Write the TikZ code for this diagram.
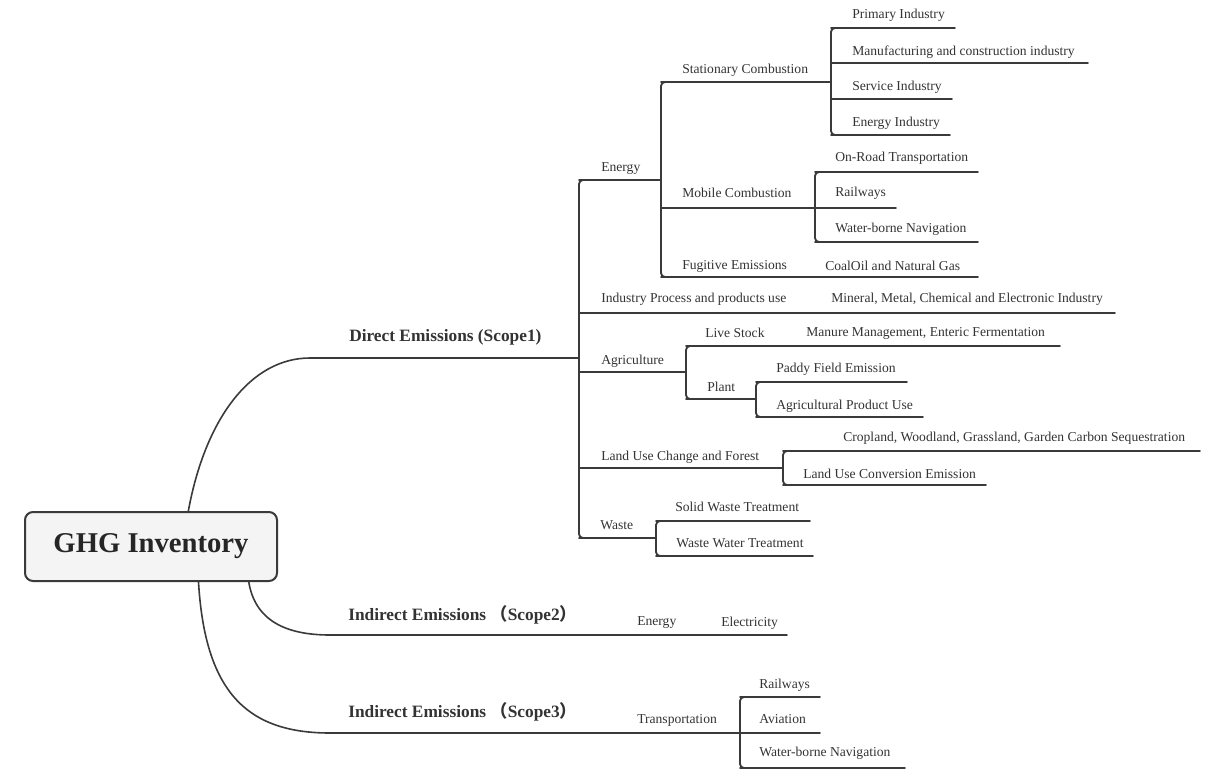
\documentclass[tikz,border=0pt]{standalone}
\usepackage{fontspec}
\setmainfont{Liberation Serif}
\newfontfamily\cjk{Noto Sans CJK SC}
\usetikzlibrary{calc}
\definecolor{ln}{HTML}{3A3A3A}
\definecolor{tx}{HTML}{333333}
\tikzset{
  lbl/.style={anchor=west, inner sep=0pt, font=\fontsize{10.2}{12}\selectfont, text=tx},
  mainlbl/.style={anchor=west, inner sep=0pt, font=\fontsize{13}{15}\selectfont\bfseries, text=tx},
  br/.style={draw=ln, line width=1.4pt, line cap=round},
  curv/.style={draw=ln, line width=1.2pt, line cap=round},
  bracket/.style={draw=ln, line width=1.4pt, rounded corners=3pt},
  rootbox/.style={draw=ln, line width=1.5pt, rounded corners=6pt, fill=gray!9,
    minimum width=189pt, minimum height=51.75pt, inner sep=0pt,
    font=\fontsize{21.5}{24}\selectfont\bfseries, text=black!85}
}
% name, x1, x2, line y, text x, text y, text
\newcommand\mmtopic[7]{%
  \coordinate (#1-s) at (#2,#4);
  \coordinate (#1-e) at (#3,#4);
  \node[lbl] (#1) at (#5,#6) {#7};
  \draw[br] (#1-s) -- (#1-e);}
% label only (sits on a parent's line)
\newcommand\mmlabel[4]{\node[lbl] (#1) at (#2,#3) {#4};}
% vertical bracket between two topics' starts
\newcommand\mmbracket[2]{%
  \draw[bracket] ([xshift=7pt]#1-s) -- (#1-s) -- (#2-s) -- ([xshift=7pt]#2-s);}
\begin{document}
\begin{tikzpicture}[x=0.75pt,y=-0.75pt]
\useasboundingbox (0,0) rectangle (1210,771);

% root
\node[rootbox] (root) at (151,546.5) {GHG Inventory};
\coordinate (r1) at ($(root.north west)!0.647!(root.north east)$);
\coordinate (r2) at ($(root.south west)!0.885!(root.south east)$);
\coordinate (r3) at ($(root.south west)!0.687!(root.south east)$);

% ---------- Scope 1 ----------
\coordinate (dir-s) at (310,358);
\coordinate (dir-e) at (579,358);
\node[mainlbl] (dir) at (349,337) {Direct Emissions (Scope1)};
\draw[curv] (r1) .. controls (205,420) and (250,358) .. (dir-s) -- (dir-e);

% Energy
\mmtopic{en}{579}{661}{180}{601}{169}{Energy}
\mmtopic{sc}{661}{831}{82}{682}{70}{Stationary Combustion}
\mmtopic{pi}{831}{955}{28}{852}{15}{Primary Industry}
\mmtopic{mf}{831}{1088}{63}{852}{52}{Manufacturing and construction industry}
\mmtopic{si}{831}{952}{99}{852}{87}{Service Industry}
\mmtopic{ei}{831}{950}{135}{852}{123}{Energy Industry}
\mmbracket{pi}{ei}

\mmtopic{mc}{661}{896}{208}{682}{193}{Mobile Combustion}
\mmtopic{or}{815}{978}{172}{835}{158}{On-Road Transportation}
\coordinate (rw-s) at (815,208);
\mmlabel{rw}{835}{193}{Railways}
\mmtopic{wn}{815}{978}{242}{835}{229}{Water-borne Navigation}
\mmbracket{or}{wn}

\mmtopic{fe}{661}{978}{277}{682}{266}{Fugitive Emissions}
\mmlabel{cog}{825}{266}{CoalOil and Natural Gas}
\mmbracket{sc}{fe}

% Industry
\mmtopic{ip}{579}{1115}{313}{601}{299}{Industry Process and products use}
\mmlabel{mm}{831}{299}{Mineral, Metal, Chemical and Electronic Industry}

% Agriculture
\mmtopic{ag}{579}{686}{372}{601}{361}{Agriculture}
\mmtopic{ls}{686}{1060}{346}{705}{333}{Live Stock}
\mmlabel{mme}{806}{333}{Manure Management, Enteric Fermentation}
\mmtopic{pl}{686}{756}{399}{707}{387}{Plant}
\mmbracket{ls}{pl}
\mmtopic{pf}{756}{907}{382}{776}{369}{Paddy Field Emission}
\mmtopic{ap}{756}{923}{417}{776}{406}{Agricultural Product Use}
\mmbracket{pf}{ap}

% Land use
\mmtopic{lu}{579}{783}{468}{601}{457}{Land Use Change and Forest}
\mmtopic{cw}{783}{1200}{451}{843}{438}{Cropland, Woodland, Grassland, Garden Carbon Sequestration}
\mmtopic{lc}{783}{986}{485}{803}{474}{Land Use Conversion Emission}
\mmbracket{cw}{lc}

% Waste
\mmtopic{wa}{579}{656}{538}{600}{525}{Waste}
\mmtopic{sw}{656}{810}{521}{675}{507}{Solid Waste Treatment}
\mmtopic{ww}{656}{813}{556}{676}{543}{Waste Water Treatment}
\mmbracket{sw}{ww}

\mmbracket{en}{wa}

% ---------- Scope 2 ----------
\coordinate (s2-s) at (330,635);
\coordinate (s2-e) at (787,635);
\node[mainlbl] (s2) at (348,615) {Indirect Emissions {\cjk （}Scope2{\cjk ）}};
\draw[curv] (r2) .. controls (255,620) and (285,635) .. (s2-s) -- (s2-e);
\mmlabel{en2}{637}{623}{Energy}
\mmlabel{el}{721}{623}{Electricity}

% ---------- Scope 3 ----------
\coordinate (s3-s) at (330,733);
\coordinate (s3-e) at (740,733);
\node[mainlbl] (s3) at (348,712) {Indirect Emissions {\cjk （}Scope3{\cjk ）}};
\draw[curv] (r3) .. controls (205,690) and (245,733) .. (s3-s) -- (s3-e);
\mmlabel{tr}{637}{720}{Transportation}
\mmtopic{rw3}{740}{820}{697}{759}{685}{Railways}
\mmtopic{av}{740}{820}{733}{759}{719}{Aviation}
\mmtopic{wn3}{740}{905}{768}{759}{753}{Water-borne Navigation}
\mmbracket{rw3}{wn3}

\end{tikzpicture}
\end{document}
